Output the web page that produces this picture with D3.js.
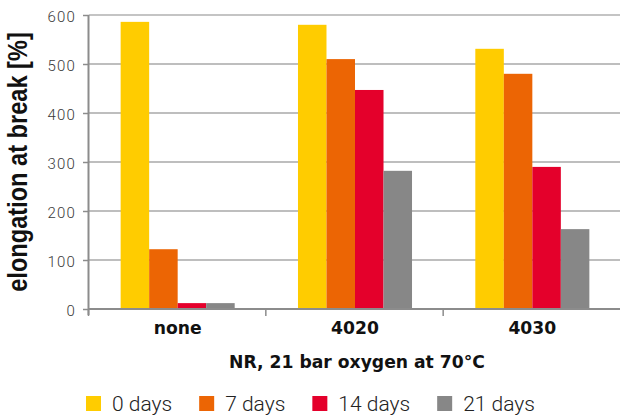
<!DOCTYPE html>
<html>
<head>
<meta charset="utf-8">
<script src="https://cdn.jsdelivr.net/npm/d3@7"></script>
<style>
  body { margin: 0; background: #fff; }
  svg { display: block; }
</style>
</head>
<body>
<svg id="chart" width="620" height="419"></svg>
<script>
// data
var categories = ["none", "4020", "4030"];
var series = ["0 days", "7 days", "14 days", "21 days"];
var values = [
    [586, 122, 12, 12],   // none
    [580, 510, 447, 282], // 4020
    [531, 480, 290, 163]  // 4030
];
var yTicks = [0, 100, 200, 300, 400, 500, 600];
var colors = ["#ffcc00", "#ec6504", "#e4002b", "#878787"];

var svg = d3.select("#chart");
var plotLeft = 89, plotRight = 621, plotTop = 15, plotBottom = 309;
var boldFont = "DejaVu Sans, Verdana, sans-serif";

var y = d3.scaleLinear().domain([0, 600]).range([plotBottom, plotTop]);
var x0 = d3.scaleBand().domain(categories).range([plotLeft, plotRight]);
var x1 = d3.scaleBand().domain(series).range([0, x0.bandwidth()]).paddingOuter(1.11);
var color = d3.scaleOrdinal().domain(series).range(colors);

// gridlines
svg.append("g").selectAll("line").data(yTicks.filter(function(d){ return d > 0; }))
    .enter().append("line")
    .attr("x1", plotLeft).attr("x2", 620)
    .attr("y1", function(d){ return y(d); }).attr("y2", function(d){ return y(d); })
    .attr("stroke", function(d){ return d == 600 ? "#c4c4c4" : "#a8a8a8"; })
    .attr("stroke-width", function(d){ return d == 600 ? 2 : 1.4; });

// bars
var groups = svg.append("g").selectAll("g").data(categories).enter()
    .append("g")
    .attr("transform", function(d){ return "translate(" + x0(d) + ",0)"; });

groups.selectAll("rect")
    .data(function(d, i){
        return series.map(function(s, j){ return {key: s, value: values[i][j]}; });
    })
    .enter().append("rect")
    .attr("x", function(d){ return x1(d.key); })
    .attr("width", x1.bandwidth())
    .attr("y", function(d){ return y(d.value); })
    .attr("height", function(d){ return y(0) - y(d.value); })
    .attr("fill", function(d){ return color(d.key); });

// y axis
var yAxis = svg.append("g")
    .attr("transform", "translate(" + plotLeft + ",0)")
    .call(d3.axisLeft(y).tickValues(yTicks).tickSize(6).tickPadding(7));
yAxis.select(".domain").remove();
yAxis.selectAll(".tick line").attr("stroke", "#8c8c8c").attr("stroke-width", 1.5);
yAxis.selectAll(".tick text")
    .attr("font-family", "Roboto, sans-serif")
    .attr("font-weight", 300)
    .attr("font-size", 15)
    .attr("letter-spacing", 1.2)
    .attr("fill", "#3a3a3a")
    .attr("dy", "0.45em");
svg.append("line")
    .attr("x1", plotLeft - 0.5).attr("x2", plotLeft - 0.5)
    .attr("y1", plotTop).attr("y2", plotBottom + 6)
    .attr("stroke", "#8c8c8c").attr("stroke-width", 2);

// x axis
var xAxis = svg.append("g")
    .attr("transform", "translate(0," + plotBottom + ")")
    .call(d3.axisBottom(x0).tickSize(0).tickPadding(13));
xAxis.select(".domain").attr("stroke", "#8c8c8c").attr("stroke-width", 2)
    .attr("d", "M" + plotLeft + ",0H620");
xAxis.selectAll(".tick text")
    .attr("font-family", boldFont)
    .attr("font-weight", "bold")
    .attr("font-size", 17.2)
    .attr("fill", "#111");
// category separator ticks
svg.append("g").selectAll("line").data(categories).enter().append("line")
    .attr("x1", function(d){ return x0(d) - 0.5; }).attr("x2", function(d){ return x0(d) - 0.5; })
    .attr("y1", plotBottom).attr("y2", plotBottom + 7)
    .attr("stroke", "#8c8c8c").attr("stroke-width", 1.5);

// axis titles
svg.append("text")
    .attr("x", (plotLeft + plotRight) / 2 + 2).attr("y", 368)
    .attr("text-anchor", "middle")
    .attr("font-family", boldFont)
    .attr("font-weight", "bold").attr("font-size", 17.2).attr("fill", "#111")
    .text("NR, 21 bar oxygen at 70°C");

// the reference is stretched sideways, so the rotated title is a bit thicker
svg.append("text")
    .attr("transform", "translate(27," + (plotTop + plotBottom) / 2 + ") rotate(-90) scale(1,1.15)")
    .attr("text-anchor", "middle")
    .attr("font-family", "Liberation Sans, Arial, sans-serif")
    .attr("font-weight", "bold").attr("font-size", 23.6).attr("fill", "#111")
    .text("elongation at break [%]");

// legend
var legend = svg.append("g");
var lx = 86;
series.forEach(function(s){
    legend.append("rect")
        .attr("x", lx).attr("y", 396)
        .attr("width", 15).attr("height", 15)
        .attr("fill", color(s));
    var t = legend.append("text")
        .attr("x", lx + 26).attr("y", 411)
        .attr("font-family", "Roboto, sans-serif")
        .attr("font-weight", 300)
        .attr("font-size", 21)
        .attr("fill", "#222")
        .text(s);
    lx += 26 + t.node().getComputedTextLength() + 27;
});
</script>
</body>
</html>
